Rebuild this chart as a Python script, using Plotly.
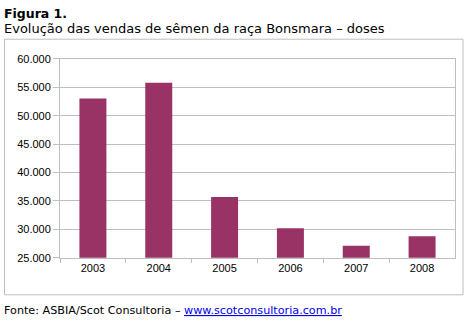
import plotly.graph_objects as go

W, H = 466, 321
years = ["2003", "2004", "2005", "2006", "2007", "2008"]
doses = [53050, 55800, 35700, 30200, 27100, 28800]
yticks = [25000, 30000, 35000, 40000, 45000, 50000, 55000, 60000]

def px(x):
    return x / W

def py(y):
    return 1 - y / H

fig = go.Figure()
fig.add_trace(go.Bar(x=years, y=doses, marker=dict(color="#993366", line=dict(width=0))))

grid = "#BEBEBE"
fig.update_layout(
    width=W, height=H,
    margin=dict(l=0, r=0, t=0, b=0),
    paper_bgcolor="white", plot_bgcolor="white",
    separators=",.",
    bargap=0.59,
    showlegend=False,
    xaxis=dict(
        domain=[px(60), px(455)],
        type="category",
        showline=True, linecolor=grid, linewidth=1, mirror=True,
        ticks="outside", ticklen=4, tickcolor=grid,
        tickson="boundaries",
        tickfont=dict(family="Liberation Sans, Arial", size=11, color="black"),
        showgrid=False,
    ),
    yaxis=dict(
        domain=[py(261.5), py(55)],
        range=[25000, 60000],
        tickvals=yticks,
        tickformat=",d",
        showline=True, linecolor=grid, linewidth=1, mirror=True,
        ticks="outside", ticklen=6, tickcolor=grid,
        showgrid=True, gridcolor=grid, gridwidth=1,
        zeroline=False,
        tickfont=dict(family="Liberation Sans, Arial", size=11, color="black"),
    ),
    shapes=[
        dict(type="rect", xref="paper", yref="paper",
             x0=px(4.5), x1=px(463), y0=py(300), y1=py(34.5),
             line=dict(color=grid, width=1), fillcolor="rgba(0,0,0,0)", layer="below"),
    ],
    annotations=[
        dict(text="<b>Figura 1.</b>", xref="paper", yref="paper", x=px(2), y=py(-2),
             xanchor="left", yanchor="top", showarrow=False,
             font=dict(family="DejaVu Sans, Verdana", size=12.5, color="black")),
        dict(text="Evolução das vendas de sêmen da raça Bonsmara – doses", xref="paper", yref="paper",
             x=px(2), y=py(13), xanchor="left", yanchor="top", showarrow=False,
             font=dict(family="DejaVu Sans, Verdana", size=13, color="black")),
        dict(text="Fonte: ASBIA/Scot Consultoria – <span style='color:#0000EE'><u>www.scotconsultoria.com.br</u></span>",
             xref="paper", yref="paper", x=px(2), y=py(308), xanchor="left", yanchor="top",
             showarrow=False,
             font=dict(family="DejaVu Sans, Verdana", size=11.2, color="black")),
    ],
)

fig.write_html("out.html")
